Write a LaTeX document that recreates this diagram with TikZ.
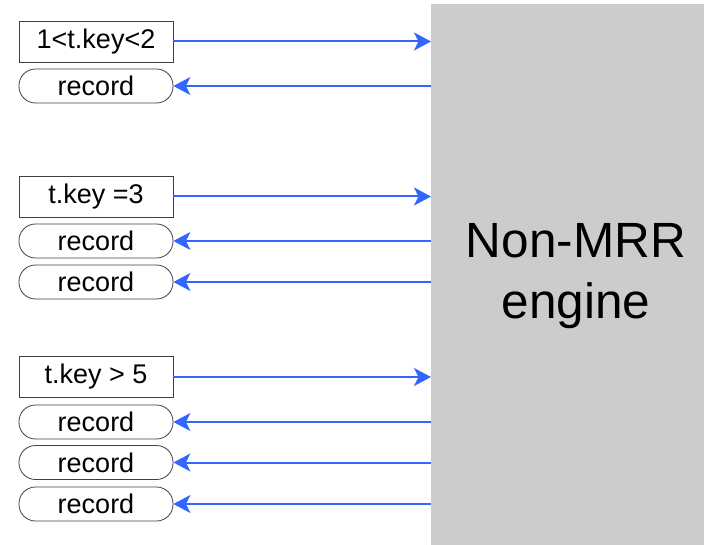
\documentclass[tikz,border=0pt]{standalone}
\usepackage{fontspec}
\setmainfont{Liberation Sans}
\usetikzlibrary{arrows.meta}
\definecolor{flowblue}{RGB}{51,102,255}
\definecolor{enginegray}{RGB}{204,204,204}
\tikzset{
  query/.style={draw=black!75,line width=0.8pt,minimum width=154pt,minimum height=41pt,inner sep=0pt,font=\fontsize{27}{32}\selectfont},
  record/.style={query,minimum height=34pt,rounded corners=16.5pt},
  flow/.style={flowblue,line width=2pt,-{Stealth[length=17pt,width=18pt,inset=4.5pt]}},
}

\begin{document}
\begin{tikzpicture}[x=1pt,y=-1pt]
\useasboundingbox (0,0) rectangle (704,545);
\node[fill=enginegray,minimum width=273pt,minimum height=541pt,inner sep=0pt,anchor=north west] (engine) at (431,4) {};
\node[align=center,inner sep=0pt,font=\fontsize{49.5}{61}\selectfont] (name) at (576,276) {Non-MRR\\engine};
\coordinate (edge) at (431,0);

% 1<t.key<2
\node[query] (q1) at (96,41.5) {1<t.key<2};
\node[record] (r1a) at (96,86) {record};
\draw[flow] (q1.east) -- (q1 -| edge);
\draw[flow] (r1a -| edge) -- (r1a.east);

% t.key=3
\node[query] (q2) at (96,196.5) {t.key =3};
\node[record] (r2a) at (96,241) {record};
\node[record] (r2b) at (96,282) {record};
\draw[flow] (q2.east) -- (q2 -| edge);
\draw[flow] (r2a -| edge) -- (r2a.east);
\draw[flow] (r2b -| edge) -- (r2b.east);

% t.key>5
\node[query] (q3) at (96,377) {t.key > 5};
\node[record] (r3a) at (96,422) {record};
\node[record] (r3b) at (96,462.5) {record};
\node[record] (r3c) at (96,504) {record};
\draw[flow] (q3.east) -- (q3 -| edge);
\draw[flow] (r3a -| edge) -- (r3a.east);
\draw[flow] (r3b -| edge) -- (r3b.east);
\draw[flow] (r3c -| edge) -- (r3c.east);
\end{tikzpicture}
\end{document}
